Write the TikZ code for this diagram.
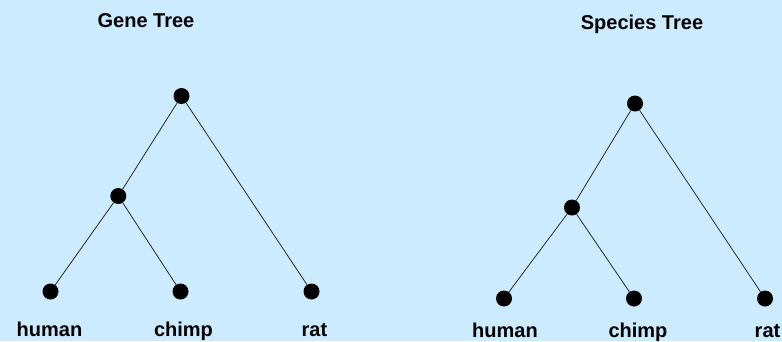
\documentclass[tikz,border=0pt]{standalone}
\usepackage{fontspec}
\setmainfont{Liberation Sans}
\definecolor{bgblue}{RGB}{204,235,255}
\definecolor{edgegray}{RGB}{40,40,40}
\begin{document}
\begin{tikzpicture}[x=1pt,y=-1pt,
  dot/.style={circle,fill=black,inner sep=0pt,minimum size=16pt},
  lbl/.style={anchor=base,inner sep=0pt,font=\fontsize{20}{24}\selectfont\bfseries},
  edge/.style={draw=edgegray,line width=0.8pt}]
\fill[bgblue] (0,0) rectangle (782,341);
\useasboundingbox (0,0) rectangle (782,341);
% Gene tree
\node[lbl] (gtitle) at (146,27) {Gene Tree};
\node[dot] (g0) at (181.5,96) {};
\node[dot] (g1) at (118.3,196) {};
\node[dot] (gh) at (50.5,291.5) {};
\node[dot] (gc) at (180.5,291.5) {};
\node[dot] (gr) at (311.5,291.5) {};
\draw[edge] (g0) -- (g1);
\draw[edge] (g0) -- (gr);
\draw[edge] (g1) -- (gh);
\draw[edge] (g1) -- (gc);
\node[lbl] (ghl) at (49.5,336.5) {human};
\node[lbl] (gcl) at (183.5,336.5) {chimp};
\node[lbl] (grl) at (314.5,336.5) {rat};
% Species tree
\node[lbl] (stitle) at (642,29) {Species Tree};
\node[dot] (s0) at (635,103.5) {};
\node[dot] (s1) at (572,207.5) {};
\node[dot] (sh) at (504,298.5) {};
\node[dot] (sc) at (634,298.5) {};
\node[dot] (sr) at (765,298.5) {};
\draw[edge] (s0) -- (s1);
\draw[edge] (s0) -- (sr);
\draw[edge] (s1) -- (sh);
\draw[edge] (s1) -- (sc);
\node[lbl] (shl) at (505,337) {human};
\node[lbl] (scl) at (638,337) {chimp};
\node[lbl] (srl) at (767.5,337) {rat};
\end{tikzpicture}
\end{document}
